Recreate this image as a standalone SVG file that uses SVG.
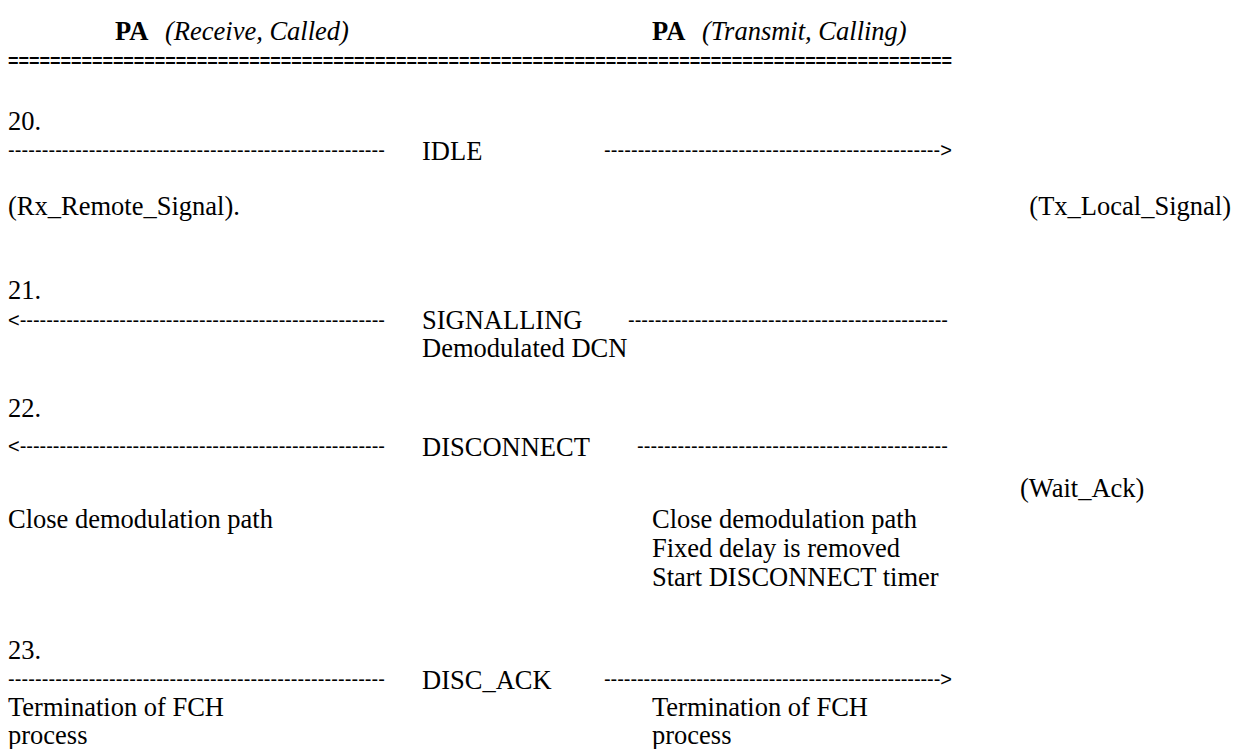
<svg xmlns="http://www.w3.org/2000/svg" width="1237" height="749" viewBox="0 0 1237 749">
  <style>
    text { font-family: "Liberation Serif", "Times New Roman", serif; font-size: 26.5px; fill: #000; }
    .b { font-weight: bold; }
    .i { font-style: italic; }
    .rule { font-family: "Liberation Sans", Arial, sans-serif; font-weight: bold; font-size: 18px; }
    .dash { font-family: "Liberation Sans", Arial, sans-serif; font-size: 20px; }
  </style>
  <rect width="1237" height="749" fill="#fff"/>

  <!-- column headers and double rule -->
  <g id="header">
    <text x="115" y="40"><tspan class="b">PA</tspan><tspan class="i" x="165">(Receive, Called)</tspan></text>
    <text x="652" y="40"><tspan class="b">PA</tspan><tspan class="i" x="702">(Transmit, Calling)</tspan></text>
    <text class="rule" x="8" y="67" textLength="944" lengthAdjust="spacing">==========================================================================================</text>
  </g>

  <!-- message exchanges, drawn as dashed text arrows -->
  <g id="connectors">
    <text class="dash" x="8" y="157" textLength="377" lengthAdjust="spacing">--------------------------------------------------------</text>
    <text class="dash" x="604" y="157" textLength="348" lengthAdjust="spacing">--------------------------------------------------&gt;</text>

    <text class="dash" x="8" y="327" textLength="377" lengthAdjust="spacing">&lt;-------------------------------------------------------</text>
    <text class="dash" x="628" y="327" textLength="320" lengthAdjust="spacing">------------------------------------------------</text>

    <text class="dash" x="8" y="453" textLength="377" lengthAdjust="spacing">&lt;-------------------------------------------------------</text>
    <text class="dash" x="637" y="453" textLength="311" lengthAdjust="spacing">----------------------------------------------</text>

    <text class="dash" x="8" y="686" textLength="377" lengthAdjust="spacing">--------------------------------------------------------</text>
    <text class="dash" x="604" y="686" textLength="348" lengthAdjust="spacing">---------------------------------------------------&gt;</text>
  </g>

  <g id="step20">
    <text x="8" y="130">20.</text>
    <text x="422" y="160">IDLE</text>
    <text x="8" y="215">(Rx_Remote_Signal).</text>
    <text x="1231" y="215" text-anchor="end">(Tx_Local_Signal)</text>
  </g>

  <g id="step21">
    <text x="8" y="299">21.</text>
    <text x="422" y="329">SIGNALLING</text>
    <text x="422" y="357">Demodulated DCN</text>
  </g>

  <g id="step22">
    <text x="8" y="417">22.</text>
    <text x="422" y="456">DISCONNECT</text>
    <text x="1020" y="497">(Wait_Ack)</text>
    <text x="8" y="528">Close demodulation path</text>
    <text x="652" y="528">Close demodulation path</text>
    <text x="652" y="557">Fixed delay is removed</text>
    <text x="652" y="586">Start DISCONNECT timer</text>
  </g>

  <g id="step23">
    <text x="8" y="659">23.</text>
    <text x="422" y="689">DISC_ACK</text>
    <text x="8" y="716">Termination of FCH</text>
    <text x="8" y="744">process</text>
    <text x="652" y="716">Termination of FCH</text>
    <text x="652" y="744">process</text>
  </g>
</svg>
